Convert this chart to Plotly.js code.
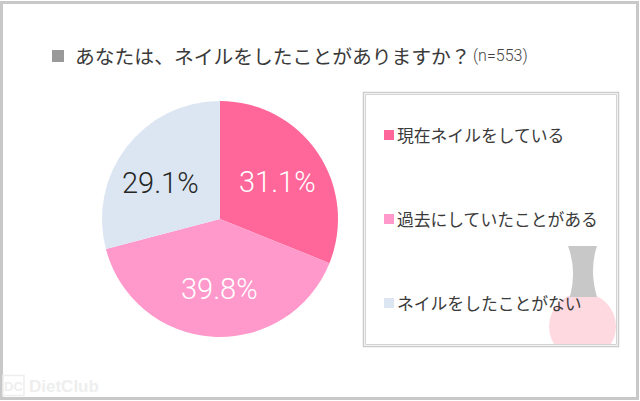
<!DOCTYPE html>
<html><head><meta charset="utf-8">
<script src="https://cdn.plot.ly/plotly-3.0.0.min.js"></script>
<style>html,body{margin:0;padding:0;background:#fff}#c{width:640px;height:401px}</style>
</head><body><div id="c"></div>
<script>
const categories = ['現在ネイルをしている','過去にしていたことがある','ネイルをしたことがない'];
const shares = [31.1, 39.8, 29.1];
const sliceColors = ['#ff6699','#ff99cc','#dce6f2'];
const labelColors = ['#ffffff','#ffffff','#262626'];
const titleText = 'あなたは、ネイルをしたことがありますか？';
const sampleText = '(n=553)';
const W = 640, H = 401;
const JP = '"Noto Sans CJK JP", sans-serif';
const LATIN = 'Roboto, "Liberation Sans", sans-serif';
const px = x => x / W, py = y => 1 - y / H;
const rect = (x0,y0,x1,y1,extra) => Object.assign({type:'rect',xref:'paper',yref:'paper',x0:px(x0),x1:px(x1),y0:py(y0),y1:py(y1),line:{width:0},layer:'below'},extra);
const legendY = [135,219,303];
const pieCx = 220, pieCy = 219, labelR = 69;
const labelNudge = [[0,2],[4,1],[-5,6]];

const shapes = [
  rect(1.5,2.5,637.5,398.5,{line:{color:'#c8c8c8',width:3}}),
  {type:'circle',xref:'paper',yref:'paper',x0:px(549),x1:px(616),y0:py(360),y1:py(293),fillcolor:'#ffd9e0',line:{width:0},layer:'below'},
  rect(545,345,625,365,{fillcolor:'#ffffff'}),
  rect(363.5,92.5,618.5,346.5,{line:{color:'#cccccc',width:1.5}}),
  rect(365.5,94.5,616.5,344.5,{line:{color:'#d4d4d4',width:1}}),
  {type:'path',xref:'paper',yref:'paper',layer:'below',fillcolor:'#c8c8c8',line:{width:0},
   path:`M${px(568)},${py(246)} L${px(597)},${py(246)} Q${px(589)},${py(270)} ${px(597)},${py(297)} L${px(570)},${py(297)} Q${px(577)},${py(270)} ${px(568)},${py(246)} Z`},
  rect(52,50,64,62,{fillcolor:'#999999'}),
  rect(3,375.5,24,395.5,{line:{color:'#eeeeee',width:1.5}})
];
categories.forEach((c,i)=>shapes.push(rect(384,legendY[i]-5,394,legendY[i]+5,{fillcolor:sliceColors[i]})));

const annotations = [
  {text:titleText,x:px(74),y:py(55),xanchor:'left',yanchor:'middle',font:{family:JP,size:19.8,color:'#3a3a3a'}},
  {text:sampleText,x:px(472),y:py(56),xanchor:'left',yanchor:'middle',font:{family:LATIN,size:16,weight:300,color:'#444444'}},
  {text:'DietClub',x:px(28),y:py(386),xanchor:'left',yanchor:'middle',font:{family:'"Liberation Sans", sans-serif',size:17,weight:700,color:'#eeeeee'}},
  {text:'DC',x:px(13.5),y:py(386),xanchor:'center',yanchor:'middle',font:{family:'"Liberation Sans", sans-serif',size:13,weight:700,color:'#eeeeee'}}
];
categories.forEach((c,i)=>annotations.push({text:c,x:px(396),y:py(legendY[i]),xanchor:'left',yanchor:'middle',font:{family:JP,size:16.8,color:'#3a3a3a'}}));

// Percent labels sit on each slice's mid-angle, computed from the values.
const total = shares.reduce((a,b)=>a+b,0);
let run = 0;
shares.forEach((v,i)=>{
  const a = (run + v/2)/total*2*Math.PI; run += v;
  annotations.push({text:v.toFixed(1)+'%',
    x:px(pieCx+labelR*Math.sin(a)+labelNudge[i][0]),
    y:py(pieCy-labelR*Math.cos(a)+labelNudge[i][1]),
    xanchor:'center',yanchor:'middle',font:{family:LATIN,size:29,weight:300,color:labelColors[i]}});
});
annotations.forEach(a=>{a.xref='paper';a.yref='paper';a.showarrow=false;a.borderpad=0;a.align='left'});

Plotly.newPlot('c',[{
  type:'pie',labels:categories,values:shares,sort:false,direction:'clockwise',rotation:0,
  marker:{colors:sliceColors,line:{width:0}},
  domain:{x:[px(102),px(338)],y:[py(337.5),py(100.5)]},
  textinfo:'none',hoverinfo:'none',showlegend:false
}],{
  width:W,height:H,margin:{l:0,r:0,t:0,b:0},paper_bgcolor:'#ffffff',showlegend:false,
  shapes,annotations
},{staticPlot:true,displayModeBar:false});
</script></body></html>
